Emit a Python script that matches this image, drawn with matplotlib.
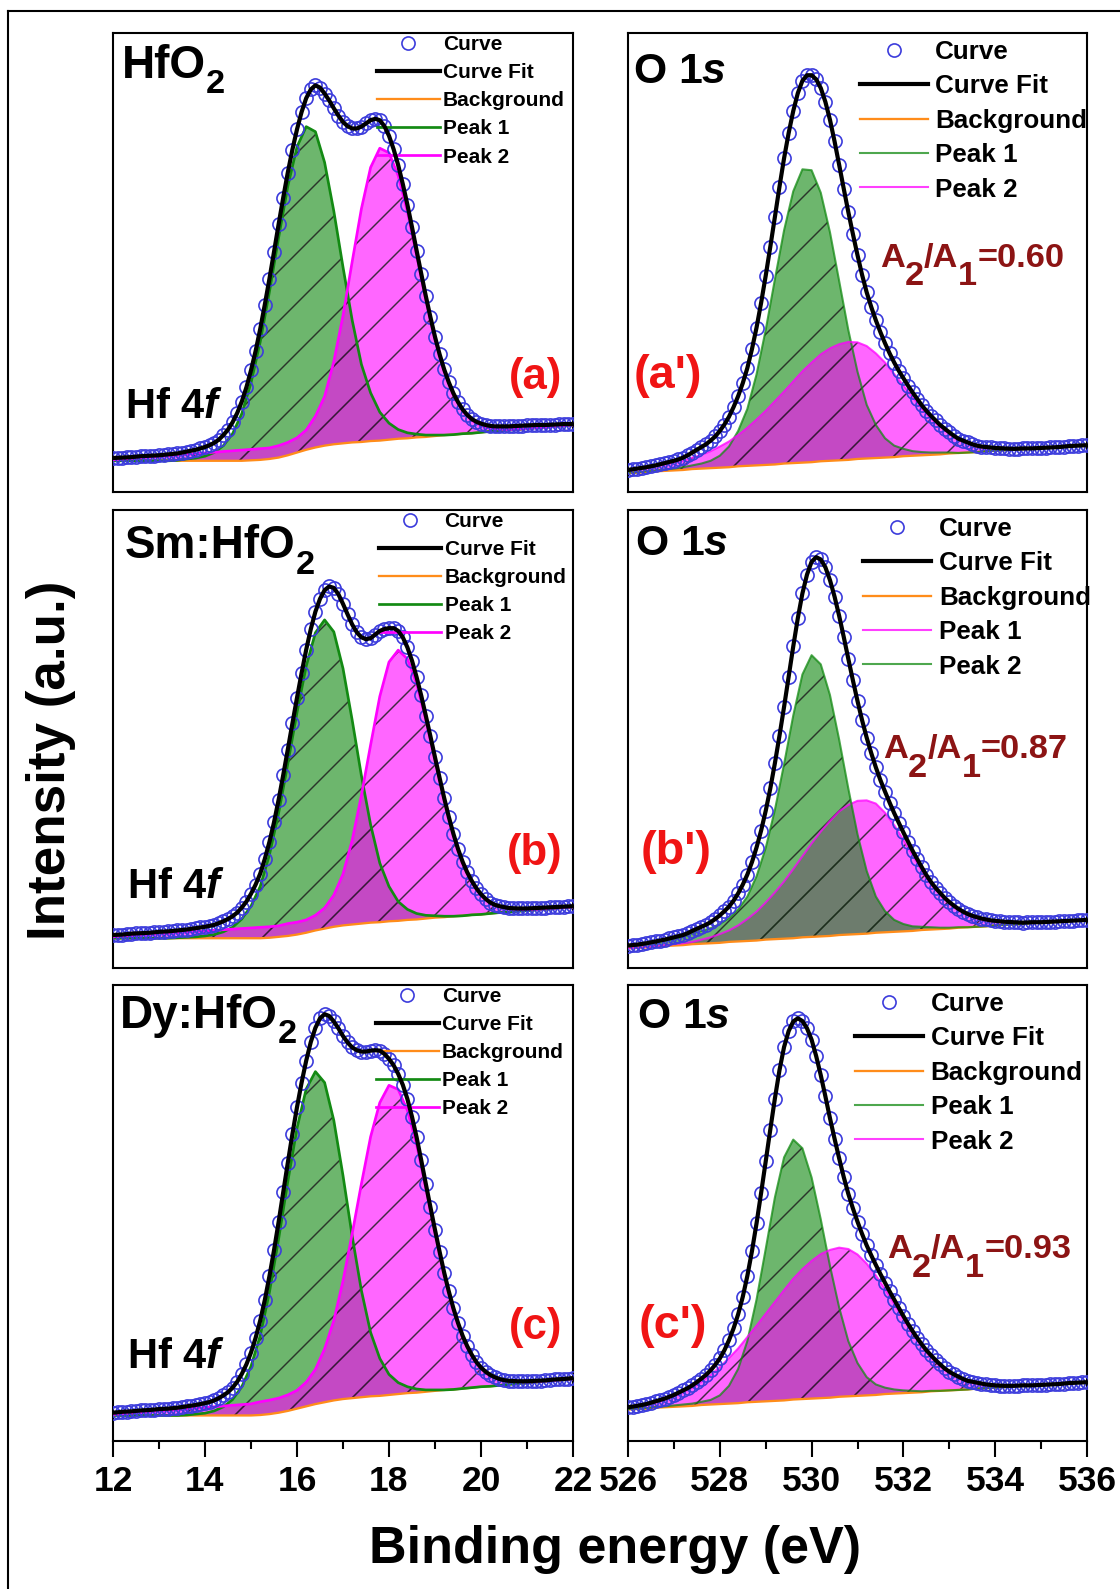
import numpy as np
import matplotlib.pyplot as plt
from matplotlib.lines import Line2D

plt.rcParams['font.family'] = ['Liberation Sans', 'DejaVu Sans']
plt.rcParams['font.weight'] = 'bold'
plt.rcParams['mathtext.fontset'] = 'custom'
plt.rcParams['mathtext.rm'] = 'Liberation Sans:bold'
plt.rcParams['mathtext.it'] = 'Liberation Sans:italic:bold'
plt.rcParams['mathtext.bf'] = 'Liberation Sans:bold'
plt.rcParams['hatch.linewidth'] = 0.7

# binding energy grids (eV): measured points every 0.1 eV, fit components every 0.2 eV
hf_energy = np.linspace(12, 22, 51)
hf_energy_pts = np.linspace(12, 22, 101)
o_energy = np.linspace(526, 536, 51)
o_energy_pts = np.linspace(526, 536, 101)

# ---- Hf 4f, HfO2 (a) ----
a_curve = [7.4, 7.45, 7.5, 7.55, 7.6, 7.7, 7.8, 7.85, 7.9, 7.95,
           8.0, 8.1, 8.2, 8.3, 8.4, 8.6, 8.8, 9.0, 9.2, 9.5,
           9.8, 10.2, 10.7, 11.4, 12.4, 13.6, 15.2, 17.2, 19.7, 22.8,
           26.5, 30.7, 35.5, 40.8, 46.4, 52.3, 58.3, 64.1, 69.6, 74.6,
           79.0, 82.8, 85.8, 87.7, 88.6, 88.1, 86.8, 85.3, 83.6, 82.0,
           80.6, 79.7, 79.2, 79.2, 79.6, 80.3, 81.0, 81.3, 81.0, 79.7,
           77.6, 74.7, 71.2, 67.1, 62.6, 57.7, 52.6, 47.6, 42.7, 38.1,
           33.8, 30.0, 26.7, 23.9, 21.5, 19.6, 18.0, 16.8, 15.9, 15.3,
           14.9, 14.6, 14.4, 14.3, 14.3, 14.3, 14.3, 14.35, 14.4, 14.45,
           14.5, 14.55, 14.6, 14.6, 14.6, 14.65, 14.7, 14.75, 14.8, 14.8,
           14.8]
a_bg = [6.8, 6.8, 6.8, 6.8, 6.8, 6.8, 6.8, 6.8, 6.8, 6.8,
        6.8, 6.8, 6.8, 6.8, 6.8, 6.9, 7.0, 7.2, 7.5, 8.0,
        8.6, 9.2, 9.7, 10.1, 10.4, 10.6, 10.8, 10.9, 11.1, 11.2,
        11.4, 11.6, 11.7, 11.9, 12.0, 12.2, 12.4, 12.5, 12.7, 12.8,
        13.0, 13.2, 13.3, 13.5, 13.6, 13.8, 14.0, 14.1, 14.3, 14.4, 14.6]
a_peak1 = [6.8, 6.8, 6.8, 6.8, 6.8, 6.8, 6.8, 6.9, 7.2, 7.4,
           7.8, 8.6, 10.1, 12.7, 17.1, 23.8, 32.7, 43.6, 55.4, 66.6,
           75.2, 79.6, 78.5, 71.8, 61.2, 49.0, 37.4, 27.8, 21.6, 17.4,
           15.0, 13.6, 12.9, 12.6, 12.4, 12.4, 12.4, 12.5, 12.7, 12.8,
           13.0, 13.2, 13.3, 13.5, 13.6, 13.8, 14.0, 14.1, 14.3, 14.4, 14.6]
a_peak2 = [7.0, 7.15, 7.3, 7.46, 7.61, 7.76, 7.91, 8.06, 8.22, 8.37,
           8.52, 8.67, 8.82, 8.98, 9.13, 9.28, 9.43, 9.6, 10.1, 10.8,
           11.8, 13.5, 16.5, 20.8, 28.4, 38.4, 50.2, 61.7, 70.7, 74.9,
           73.9, 68.9, 61.1, 51.6, 42.0, 33.3, 26.4, 21.2, 17.8, 15.6,
           14.5, 13.9, 13.7, 13.6, 13.7, 13.8, 14.0, 14.1, 14.3, 14.45, 14.6]

# ---- Hf 4f, Sm:HfO2 (b) ----
b_curve = [7.2, 7.25, 7.3, 7.4, 7.5, 7.55, 7.6, 7.65, 7.7, 7.8,
           7.9, 7.95, 8.0, 8.1, 8.2, 8.3, 8.4, 8.55, 8.7, 8.85,
           9.0, 9.2, 9.4, 9.8, 10.2, 10.7, 11.3, 12.1, 13.2, 14.5,
           16.2, 18.2, 20.6, 23.8, 27.5, 31.8, 36.7, 42.1, 47.7, 53.4,
           59.0, 64.4, 69.5, 74.0, 77.8, 80.6, 82.5, 83.3, 83.0, 81.6,
           79.5, 77.2, 75.0, 73.3, 72.2, 71.8, 72.0, 72.8, 73.6, 74.0,
           74.2, 74.2, 73.6, 72.2, 70.0, 67.1, 63.5, 59.5, 55.1, 50.6,
           46.0, 41.5, 37.1, 33.0, 29.3, 26.0, 23.2, 20.9, 19.0, 17.4,
           16.1, 15.1, 14.3, 13.8, 13.5, 13.3, 13.1, 13.05, 13.0, 13.0,
           13.0, 13.05, 13.1, 13.15, 13.2, 13.25, 13.3, 13.35, 13.4, 13.45,
           13.5]
b_bg = [6.5, 6.5, 6.5, 6.5, 6.5, 6.5, 6.5, 6.5, 6.5, 6.5,
        6.5, 6.5, 6.5, 6.5, 6.5, 6.5, 6.5, 6.6, 6.8, 7.0,
        7.3, 7.7, 8.2, 8.6, 9.0, 9.3, 9.5, 9.7, 9.9, 10.0,
        10.2, 10.3, 10.5, 10.6, 10.8, 11.0, 11.1, 11.3, 11.4, 11.6,
        11.7, 11.9, 12.1, 12.2, 12.4, 12.5, 12.7, 12.8, 13.0, 13.2, 13.3]
b_peak1 = [6.5, 6.5, 6.5, 6.5, 6.5, 6.5, 6.5, 6.6, 6.7, 6.8,
           7.0, 7.3, 7.9, 8.9, 10.7, 13.5, 17.8, 24.7, 33.8, 44.6,
           55.8, 65.9, 73.2, 76.0, 73.4, 65.4, 54.1, 42.0, 31.3, 22.9,
           17.8, 14.5, 12.8, 11.9, 11.5, 11.4, 11.3, 11.3, 11.4, 11.6,
           11.7, 11.9, 12.1, 12.2, 12.4, 12.5, 12.7, 12.8, 13.0, 13.2, 13.3]
b_peak2 = [6.8, 6.93, 7.06, 7.19, 7.32, 7.45, 7.58, 7.71, 7.84, 7.97,
           8.1, 8.23, 8.36, 8.49, 8.62, 8.75, 8.88, 9.01, 9.2, 9.7,
           10.0, 10.5, 11.5, 13.1, 15.9, 20.5, 27.9, 37.7, 48.7, 59.3,
           66.8, 69.4, 67.5, 62.1, 54.3, 45.6, 36.8, 29.2, 23.1, 18.9,
           16.0, 14.2, 13.4, 12.9, 12.8, 12.75, 12.78, 12.91, 13.04, 13.17, 13.3]

# ---- Hf 4f, Dy:HfO2 (c) ----
c_curve = [6.2, 6.3, 6.4, 6.45, 6.5, 6.6, 6.7, 6.75, 6.8, 6.9,
           7.0, 7.05, 7.1, 7.2, 7.3, 7.45, 7.6, 7.75, 7.9, 8.1,
           8.3, 8.55, 8.9, 9.4, 10.0, 10.7, 11.7, 13.0, 14.7, 16.8,
           19.4, 22.6, 26.4, 30.9, 36.1, 41.8, 48.0, 54.5, 61.0, 67.3,
           73.2, 78.6, 83.4, 87.5, 90.6, 92.7, 93.6, 93.2, 92.0, 90.5,
           88.8, 87.4, 86.3, 85.7, 85.4, 85.4, 85.6, 85.7, 85.6, 84.9,
           83.8, 82.4, 80.5, 78.1, 75.0, 71.1, 66.6, 61.6, 56.4, 51.3,
           46.3, 41.5, 36.9, 32.8, 29.1, 25.9, 23.1, 20.8, 18.9, 17.3,
           16.1, 15.2, 14.5, 14.0, 13.6, 13.35, 13.2, 13.15, 13.1, 13.1,
           13.1, 13.15, 13.2, 13.25, 13.3, 13.4, 13.5, 13.55, 13.6, 13.7,
           13.8]
c_bg = [5.6, 5.6, 5.6, 5.6, 5.6, 5.6, 5.6, 5.6, 5.6, 5.6,
        5.6, 5.6, 5.6, 5.6, 5.6, 5.6, 5.7, 5.9, 6.2, 6.6,
        7.1, 7.6, 8.1, 8.5, 8.9, 9.2, 9.4, 9.6, 9.8, 9.9,
        10.1, 10.3, 10.5, 10.6, 10.8, 11.0, 11.2, 11.3, 11.5, 11.7,
        11.9, 12.0, 12.2, 12.4, 12.6, 12.7, 12.9, 13.1, 13.3, 13.4, 13.6]
c_peak1 = [5.6, 5.6, 5.6, 5.6, 5.6, 5.6, 5.6, 5.6, 5.7, 5.9,
           6.1, 6.6, 7.5, 9.1, 11.9, 16.4, 23.1, 32.6, 44.3, 56.9,
           68.6, 77.2, 81.0, 78.6, 70.3, 58.2, 44.9, 33.0, 23.8, 18.1,
           14.6, 12.8, 11.9, 11.4, 11.2, 11.2, 11.2, 11.3, 11.5, 11.7,
           11.9, 12.0, 12.2, 12.4, 12.6, 12.7, 12.9, 13.1, 13.3, 13.4, 13.6]
c_peak2 = [5.8, 5.96, 6.11, 6.27, 6.42, 6.58, 6.74, 6.89, 7.05, 7.2,
           7.36, 7.52, 7.67, 7.83, 7.98, 8.14, 8.6, 8.95, 9.4, 10.1,
           11.1, 12.9, 15.7, 20.2, 26.4, 35.1, 45.5, 56.4, 66.7, 74.2,
           78.0, 77.1, 72.5, 65.0, 55.6, 45.9, 36.7, 29.0, 23.0, 18.8,
           16.0, 14.4, 13.5, 13.1, 13.0, 12.9, 12.98, 13.13, 13.29, 13.44, 13.6]

# ---- O 1s, HfO2 (a') ----
ap_curve = [4.8, 4.95, 5.1, 5.25, 5.4, 5.6, 5.8, 6.05, 6.3, 6.55,
            6.8, 7.1, 7.5, 8.0, 8.6, 9.2, 9.8, 10.4, 11.2, 12.1,
            13.3, 14.7, 16.4, 18.5, 20.9, 23.7, 27.0, 31.1, 35.8, 41.2,
            47.1, 53.4, 59.9, 66.5, 72.7, 78.2, 83.0, 86.9, 89.6, 90.8,
            90.8, 89.9, 88.0, 85.0, 81.1, 76.4, 71.3, 66.1, 61.0, 56.2,
            51.6, 47.3, 43.5, 40.3, 37.4, 34.8, 32.4, 30.2, 28.2, 26.4,
            24.8, 23.2, 21.7, 20.3, 18.9, 17.7, 16.6, 15.6, 14.6, 13.8,
            13.0, 12.25, 11.6, 11.2, 10.8, 10.4, 10.1, 9.9, 9.8, 9.7,
            9.6, 9.55, 9.5, 9.45, 9.4, 9.45, 9.5, 9.5, 9.5, 9.55,
            9.6, 9.65, 9.7, 9.75, 9.8, 9.9, 10.0, 10.05, 10.1, 10.15,
            10.2]
ap_bg = [4.1, 4.2, 4.3, 4.5, 4.6, 4.7, 4.8, 5.0, 5.1, 5.2,
         5.3, 5.4, 5.6, 5.7, 5.8, 5.9, 6.0, 6.2, 6.3, 6.4,
         6.5, 6.7, 6.8, 6.9, 7.0, 7.2, 7.3, 7.4, 7.5, 7.6,
         7.8, 7.9, 8.0, 8.1, 8.2, 8.4, 8.5, 8.6, 8.7, 8.9,
         9.0, 9.1, 9.2, 9.3, 9.5, 9.6, 9.7, 9.8, 10.0, 10.1, 10.2]
ap_peak1 = [4.2, 4.3, 4.5, 4.7, 4.9, 5.1, 5.4, 5.8, 6.2, 6.8,
            7.9, 9.9, 13.3, 18.1, 25.6, 35.3, 46.3, 57.0, 65.5, 70.3,
            70.1, 65.2, 56.6, 46.0, 35.3, 26.2, 19.0, 14.6, 11.7, 10.1,
            9.4, 8.9, 8.7, 8.6, 8.6, 8.6, 8.5, 8.6, 8.7, 8.9,
            9.0, 9.1, 9.2, 9.3, 9.5, 9.6, 9.7, 9.8, 10.0, 10.1, 10.2]
ap_peak2 = [4.9, 5.1, 5.3, 5.7, 6.0, 6.4, 6.8, 7.5, 8.1, 8.9,
            9.9, 11.0, 12.4, 14.0, 15.8, 17.7, 19.8, 21.9, 24.1, 26.3,
            28.2, 30.0, 31.3, 32.2, 32.7, 32.6, 31.8, 30.2, 28.2, 25.7,
            23.2, 20.7, 18.2, 16.1, 14.3, 12.8, 11.6, 10.8, 10.1, 9.8,
            9.6, 9.5, 9.4, 9.45, 9.5, 9.6, 9.7, 9.8, 10.0, 10.1, 10.2]

# ---- O 1s, Sm:HfO2 (b') ----
bp_curve = [4.9, 5.0, 5.1, 5.25, 5.4, 5.6, 5.8, 6.0, 6.2, 6.45,
            6.7, 6.95, 7.2, 7.6, 8.1, 8.55, 9.0, 9.45, 10.0, 10.7,
            11.5, 12.4, 13.4, 14.7, 16.3, 18.2, 20.4, 23.1, 26.3, 30.0,
            34.3, 39.2, 44.7, 50.7, 57.0, 63.6, 70.2, 76.4, 81.8, 85.9,
            88.7, 89.7, 89.2, 87.5, 84.7, 81.1, 76.9, 72.3, 67.5, 62.8,
            58.3, 54.1, 50.3, 46.9, 43.8, 41.0, 38.5, 36.1, 33.8, 31.7,
            29.6, 27.6, 25.6, 23.8, 22.0, 20.3, 18.8, 17.5, 16.4, 15.3,
            14.4, 13.6, 12.9, 12.3, 11.8, 11.4, 11.1, 10.8, 10.6, 10.4,
            10.3, 10.2, 10.1, 10.05, 10.0, 9.95, 9.9, 9.95, 10.0, 10.0,
            10.0, 10.05, 10.1, 10.15, 10.2, 10.25, 10.3, 10.35, 10.4, 10.45,
            10.5]
bp_bg = [4.3, 4.4, 4.5, 4.7, 4.8, 4.9, 5.0, 5.2, 5.3, 5.4,
         5.5, 5.7, 5.8, 5.9, 6.0, 6.2, 6.3, 6.4, 6.5, 6.7,
         6.8, 6.9, 7.0, 7.2, 7.3, 7.4, 7.5, 7.7, 7.8, 7.9,
         8.0, 8.1, 8.3, 8.4, 8.5, 8.6, 8.8, 8.9, 9.0, 9.1,
         9.3, 9.4, 9.5, 9.6, 9.8, 9.9, 10.0, 10.1, 10.3, 10.4, 10.5]
# in (b') the higher-energy component is labelled Peak 1
bp_peak1 = [4.3, 4.4, 4.6, 4.8, 5.0, 5.2, 5.4, 5.7, 6.2, 6.7,
            7.4, 8.2, 9.3, 10.7, 12.3, 14.3, 16.5, 18.9, 21.6, 24.4,
            27.2, 29.8, 32.1, 34.2, 35.6, 36.5, 36.6, 35.9, 33.9, 31.2,
            28.0, 24.6, 21.3, 18.3, 16.1, 14.2, 12.8, 11.8, 11.1, 10.6,
            10.3, 10.1, 10.0, 9.9, 10.0, 10.0, 10.0, 10.1, 10.3, 10.4, 10.5]
bp_peak2 = [4.9, 5.1, 5.4, 5.7, 6.0, 6.4, 6.8, 7.6, 8.1, 8.7,
            9.6, 10.9, 12.8, 15.6, 20.0, 26.2, 34.5, 44.5, 55.1, 64.1,
            68.3, 66.3, 59.6, 49.9, 39.2, 29.2, 21.2, 15.6, 12.4, 10.5,
            9.6, 9.1, 9.0, 8.9, 8.8, 8.8, 8.9, 8.9, 9.0, 9.1,
            9.3, 9.4, 9.5, 9.6, 9.8, 9.9, 10.0, 10.1, 10.3, 10.4, 10.5]

# ---- O 1s, Dy:HfO2 (c') ----
cp_curve = [7.4, 7.55, 7.7, 7.9, 8.1, 8.4, 8.7, 9.0, 9.3, 9.7,
            10.1, 10.6, 11.1, 11.6, 12.2, 12.9, 13.7, 14.5, 15.5, 16.7,
            18.1, 19.9, 22.1, 24.7, 27.8, 31.6, 36.2, 41.6, 47.7, 54.4,
            61.3, 68.3, 75.1, 81.3, 86.4, 89.9, 92.0, 92.7, 92.1, 90.5,
            88.0, 84.4, 80.2, 75.6, 70.8, 66.3, 62.0, 57.9, 54.2, 51.0,
            48.1, 45.4, 42.9, 40.7, 38.6, 36.6, 34.7, 32.8, 31.0, 29.2,
            27.4, 25.7, 24.1, 22.6, 21.2, 19.9, 18.8, 17.75, 16.8, 15.9,
            15.2, 14.6, 14.1, 13.6, 13.2, 13.0, 12.8, 12.6, 12.4, 12.3,
            12.2, 12.15, 12.1, 12.1, 12.1, 12.15, 12.2, 12.2, 12.2, 12.25,
            12.3, 12.35, 12.4, 12.45, 12.5, 12.6, 12.7, 12.75, 12.8, 12.85,
            12.9]
cp_bg = [6.9, 7.0, 7.1, 7.3, 7.4, 7.5, 7.6, 7.7, 7.9, 8.0,
         8.1, 8.2, 8.3, 8.5, 8.6, 8.7, 8.8, 8.9, 9.1, 9.2,
         9.3, 9.4, 9.5, 9.7, 9.8, 9.9, 10.0, 10.1, 10.3, 10.4,
         10.5, 10.6, 10.7, 10.9, 11.0, 11.1, 11.2, 11.3, 11.5, 11.6,
         11.7, 11.8, 11.9, 12.1, 12.2, 12.3, 12.4, 12.5, 12.7, 12.8, 12.9]
cp_peak1 = [7.0, 7.1, 7.2, 7.5, 7.6, 7.8, 8.0, 8.2, 8.6, 9.0,
            10.0, 12.1, 15.8, 21.9, 31.0, 42.1, 53.4, 62.2, 66.1, 64.2,
            57.8, 48.6, 38.4, 29.3, 21.9, 17.1, 14.0, 12.4, 11.7, 11.3,
            11.1, 11.0, 10.9, 11.0, 11.0, 11.1, 11.2, 11.3, 11.5, 11.6,
            11.7, 11.8, 11.9, 12.1, 12.2, 12.3, 12.4, 12.5, 12.7, 12.8, 12.9]
cp_peak2 = [7.3, 7.6, 8.0, 8.5, 9.1, 9.8, 10.7, 11.7, 13.0, 14.5,
            16.2, 18.2, 20.3, 22.8, 25.3, 27.9, 30.5, 33.1, 35.6, 37.7,
            39.5, 41.0, 41.9, 42.4, 42.1, 40.9, 38.9, 36.3, 33.3, 30.1,
            26.8, 23.7, 21.0, 18.7, 16.8, 15.2, 14.1, 13.2, 12.8, 12.4,
            12.2, 12.1, 12.1, 12.2, 12.2, 12.3, 12.4, 12.5, 12.7, 12.8, 12.9]

sample_names = ["HfO", "Sm:HfO", "Dy:HfO"]
hf_tags = ["(a)", "(b)", "(c)"]
o_tags = ["(a')", "(b')", "(c')"]
area_ratios = ["0.60", "0.87", "0.93"]

GREEN = '#138a13'
MAGENTA = '#ff00ff'
ORANGE = '#ff8c1a'
BLUE = '#3c3cdc'
HATCH = (0.12, 0.12, 0.12, 0.85)
RED = '#f01414'
DARKRED = '#8c1414'


def chain_text(ax, x, y, pieces, color='black'):
    # pieces: (string, fontsize, vertical shift in points vs previous piece)
    prev = ax.text(x, y, pieces[0][0], transform=ax.transAxes,
                   fontsize=pieces[0][1], color=color, va='baseline', ha='left')
    for txt, fs, dy in pieces[1:]:
        prev = ax.annotate(txt, xy=(1, 0), xycoords=prev, xytext=(0, dy),
                           textcoords='offset points', fontsize=fs, color=color,
                           va='bottom', ha='left', annotation_clip=False)


def draw_panel(ax, energy, energy_pts, curve, bg, peak1, peak2, left, swap=False):
    green_fill = (0.08, 0.54, 0.08, 0.62)
    mag_fill = (1.0, 0.0, 1.0, 0.6)
    lw_peak = 1.3 if left else 1.0
    if swap:
        # Peak 1 is the magenta component, green goes on top
        ax.fill_between(energy, bg, peak1, facecolor=mag_fill, edgecolor=HATCH,
                        hatch='/', linewidth=0, zorder=1)
        ax.fill_between(energy, bg, peak2, facecolor=green_fill, edgecolor=HATCH,
                        hatch='/', linewidth=0, zorder=2)
        c1, c2 = MAGENTA, GREEN
    else:
        ax.fill_between(energy, bg, peak1, facecolor=green_fill, edgecolor=HATCH,
                        hatch='/', linewidth=0, zorder=1)
        ax.fill_between(energy, bg, peak2, facecolor=mag_fill, edgecolor=HATCH,
                        hatch='/', linewidth=0, zorder=2)
        c1, c2 = GREEN, MAGENTA
    alpha_line = 1.0 if left else 0.75
    h_bg, = ax.plot(energy, bg, color=ORANGE, lw=1.1, zorder=3, label="Background")
    h_p1, = ax.plot(energy, peak1, color=c1, lw=lw_peak, alpha=alpha_line,
                    zorder=4, label="Peak 1")
    h_p2, = ax.plot(energy, peak2, color=c2, lw=lw_peak, alpha=alpha_line,
                    zorder=4, label="Peak 2")
    h_dat, = ax.plot(energy_pts, curve, 'o', ms=6.3, mfc='none', mec=BLUE,
                     mew=0.8, zorder=5, label="Curve")
    h_fit, = ax.plot(energy_pts, curve, color='black', lw=2.0, zorder=6,
                     label="Curve Fit")
    ax.set_xlim(energy[0], energy[-1])
    ax.set_ylim(0, 100)
    ax.set_yticks([])
    for s in ax.spines.values():
        s.set_linewidth(1.0)
    return [h_dat, h_fit, h_bg, h_p1, h_p2]


fig = plt.figure(figsize=(1120 / 150, 1589 / 150), dpi=150)

W, H = 1120.0, 1589.0
rows = [(33, 492), (510, 968), (985, 1441)]
cols = [(113, 573), (628, 1087)]

hf_sets = [(a_curve, a_bg, a_peak1, a_peak2),
           (b_curve, b_bg, b_peak1, b_peak2),
           (c_curve, c_bg, c_peak1, c_peak2)]
o_sets = [(ap_curve, ap_bg, ap_peak1, ap_peak2),
          (bp_curve, bp_bg, bp_peak1, bp_peak2),
          (cp_curve, cp_bg, cp_peak1, cp_peak2)]

hf_leg_x = [0.574, 0.578, 0.572]
o_leg_x = [0.505, 0.513, 0.495]
name_pos = [(0.02, 0.902), (0.026, 0.895), (0.015, 0.906)]
hf4f_pos = [(0.026, 0.161), (0.03, 0.153), (0.03, 0.16)]
o1s_pos = [(0.011, 0.891), (0.015, 0.902), (0.02, 0.906)]
ratio_pos = [(0.549, 0.491), (0.556, 0.458), (0.564, 0.401)]
otag_x = [0.013, 0.028, 0.024]

for i, (top, bot) in enumerate(rows):
    for j, (x0, x1) in enumerate(cols):
        ax = fig.add_axes([x0 / W, 1 - bot / H, (x1 - x0) / W, (bot - top) / H])
        if j == 0:
            curve, bg, p1, p2 = hf_sets[i]
            handles = draw_panel(ax, hf_energy, hf_energy_pts, curve, bg, p1, p2,
                                 left=True)
            ax.legend(handles=handles, loc='upper left',
                      bbox_to_anchor=(hf_leg_x[i], 0.996), frameon=False,
                      fontsize=10, handlelength=3.0, handletextpad=0.15,
                      labelspacing=0.44, borderpad=0, borderaxespad=0)
            chain_text(ax, *name_pos[i], [(sample_names[i], 22, 0), ("2", 16.5, -6)])
            ax.text(*hf4f_pos[i], r"Hf 4$\mathit{f}$", transform=ax.transAxes,
                    fontsize=20, va='baseline', ha='left')
            ax.text(0.977, 0.224, hf_tags[i], transform=ax.transAxes,
                    fontsize=21, color=RED, va='baseline', ha='right')
        else:
            curve, bg, p1, p2 = o_sets[i]
            handles = draw_panel(ax, o_energy, o_energy_pts, curve, bg, p1, p2,
                                 left=False, swap=(i == 1))
            ax.legend(handles=handles, loc='upper left',
                      bbox_to_anchor=(o_leg_x[i], 0.985), frameon=False,
                      fontsize=12.5, handlelength=2.6, handletextpad=0.3,
                      labelspacing=0.40, borderpad=0, borderaxespad=0)
            ax.text(*o1s_pos[i], r"O 1$\mathit{s}$", transform=ax.transAxes,
                    fontsize=20.5, va='baseline', ha='left')
            chain_text(ax, *ratio_pos[i],
                       [("A", 16.5, 0), ("2", 16.5, -9), ("/A", 16.5, 9),
                        ("1", 16.5, -9), ("=" + area_ratios[i], 16.5, 9)],
                       color=DARKRED)
            ax.text(otag_x[i], 0.226, o_tags[i], transform=ax.transAxes,
                    fontsize=22.5, color=RED, va='baseline', ha='left')
        if i == 2:
            if j == 0:
                ax.set_xticks([12, 14, 16, 18, 20, 22])
                ax.set_xticks([13, 15, 17, 19, 21], minor=True)
            else:
                ax.set_xticks([526, 528, 530, 532, 534, 536])
                ax.set_xticks([527, 529, 531, 533, 535], minor=True)
            ax.tick_params(axis='x', which='major', direction='out', length=7.5,
                           width=1.0, labelsize=17, pad=4)
            ax.tick_params(axis='x', which='minor', direction='out', length=4,
                           width=1.0)
        else:
            ax.set_xticks([])

fig.text(615 / W, 1 - 1550 / H, "Binding energy (eV)", ha='center', va='center',
         fontsize=25)
fig.text(51 / W, 1 - 760 / H, "Intensity (a.u.)", ha='center', va='center',
         rotation=90, fontsize=25.5)

# outer frame (left and top edges visible)
fig.add_artist(Line2D([8 / W, 8 / W], [0, 1 - 11 / H], transform=fig.transFigure,
                      color='black', lw=1.0))
fig.add_artist(Line2D([8 / W, 1], [1 - 11 / H, 1 - 11 / H],
                      transform=fig.transFigure, color='black', lw=1.0))

fig.savefig("out.png", dpi=150)
